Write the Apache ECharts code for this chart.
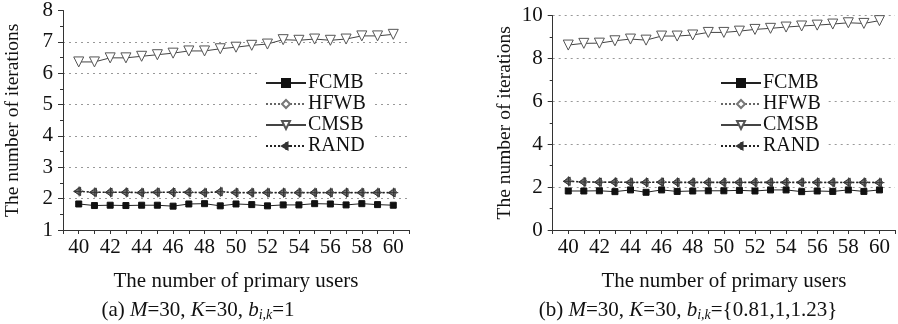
<!DOCTYPE html>
<html>
<head>
<meta charset="utf-8">
<script src="https://cdn.jsdelivr.net/npm/echarts@6/dist/echarts.min.js"></script>
<style>
  html, body { margin: 0; padding: 0; background: #fff; }
  #chart { width: 898px; height: 324px; }
</style>
</head>
<body>
<div id="chart"></div>
<script>
// Number of primary users (x values shared by both panels)
const primaryUsers = [40, 41, 42, 43, 44, 45, 46, 47, 48, 49, 50, 51, 52, 53, 54, 55, 56, 57, 58, 59, 60];

// Panel (a): M=30, K=30, b_{i,k}=1
const fcmbA = [1.83, 1.78, 1.79, 1.78, 1.79, 1.79, 1.76, 1.83, 1.84, 1.77, 1.83, 1.81, 1.77, 1.80, 1.80, 1.84, 1.83, 1.80, 1.84, 1.81, 1.79];
const hfwbA = [2.24, 2.21, 2.21, 2.21, 2.20, 2.21, 2.21, 2.21, 2.19, 2.21, 2.20, 2.20, 2.20, 2.20, 2.20, 2.20, 2.20, 2.20, 2.20, 2.20, 2.20];
const cmsbA = [6.36, 6.36, 6.49, 6.49, 6.54, 6.59, 6.64, 6.71, 6.71, 6.78, 6.83, 6.89, 6.93, 7.07, 7.05, 7.09, 7.05, 7.09, 7.19, 7.19, 7.24];
const randA = [2.23, 2.20, 2.20, 2.20, 2.19, 2.20, 2.20, 2.20, 2.19, 2.22, 2.19, 2.19, 2.19, 2.19, 2.19, 2.19, 2.19, 2.19, 2.19, 2.19, 2.19];

// Panel (b): M=30, K=30, b_{i,k}={0.81,1,1.23}
const fcmbB = [1.82, 1.82, 1.83, 1.79, 1.87, 1.76, 1.87, 1.80, 1.82, 1.83, 1.83, 1.85, 1.82, 1.87, 1.87, 1.79, 1.82, 1.80, 1.87, 1.80, 1.87];
const hfwbB = [2.29, 2.25, 2.24, 2.24, 2.23, 2.23, 2.24, 2.24, 2.23, 2.23, 2.23, 2.23, 2.23, 2.23, 2.23, 2.23, 2.23, 2.22, 2.22, 2.23, 2.22];
const cmsbB = [8.63, 8.71, 8.72, 8.83, 8.91, 8.86, 9.05, 9.05, 9.10, 9.22, 9.22, 9.28, 9.36, 9.41, 9.47, 9.52, 9.56, 9.61, 9.67, 9.64, 9.77];
const randB = [2.27, 2.24, 2.23, 2.23, 2.22, 2.22, 2.23, 2.22, 2.22, 2.22, 2.22, 2.22, 2.22, 2.22, 2.22, 2.22, 2.22, 2.22, 2.22, 2.22, 2.21];

const seriesNames = ['FCMB', 'HFWB', 'CMSB', 'RAND'];
const xTitle = 'The number of primary users';
const yTitle = 'The number of iterations';
const captionA = '(a) {i|M}=30, {i|K}=30, {i|b}{s|i,k}=1';
const captionB = '(b) {i|M}=30, {i|K}=30, {i|b}{s|i,k}={0.81,1,1.23}';

const FONT = '"Liberation Serif", "DejaVu Serif", serif';
const AXIS_COLOR = '#333';

const pair = (vals) => primaryUsers.map((x, i) => [x, vals[i]]);

// Left-pointing triangle crossed by a plus sign
const RAND_SYMBOL = 'path://M0,6 L9,1 L9,11 Z M0,6 L13,6 M7,0 L7,12';

// Visual style per algorithm
const styles = {
  FCMB: { symbol: 'rect', symbolSize: 6, symbolRotate: 0,
          itemStyle: { color: '#111', borderColor: '#111', borderWidth: 1 },
          lineStyle: { color: '#222', width: 1, type: 'solid' } },
  HFWB: { symbol: 'diamond', symbolSize: 8, symbolRotate: 0,
          itemStyle: { color: '#fff', borderColor: '#777', borderWidth: 1 },
          lineStyle: { color: '#666', width: 1.2, type: [2, 2] } },
  CMSB: { symbol: 'triangle', symbolSize: 10, symbolRotate: 180,
          itemStyle: { color: '#fff', borderColor: '#555', borderWidth: 1 },
          lineStyle: { color: '#444', width: 1, type: 'solid' } },
  RAND: { symbol: RAND_SYMBOL, symbolSize: [10, 10], symbolRotate: 0,
          itemStyle: { color: '#777', borderColor: '#333', borderWidth: 1 },
          lineStyle: { color: '#222', width: 1.4, type: [2, 2] } }
};

function makeSeries(name, vals, idx) {
  const s = styles[name];
  return {
    name: name,
    type: 'line',
    xAxisIndex: idx,
    yAxisIndex: idx,
    data: pair(vals),
    symbol: s.symbol,
    symbolSize: s.symbolSize,
    symbolRotate: s.symbolRotate,
    showAllSymbol: true,
    itemStyle: s.itemStyle,
    lineStyle: s.lineStyle,
    animation: false,
    z: name === 'CMSB' ? 3 : 2
  };
}

function xAxisCfg(idx) {
  return {
    type: 'value', gridIndex: idx, min: 39, max: 61, interval: 1,
    axisLine: { lineStyle: { color: AXIS_COLOR, width: 1 } },
    axisTick: { show: true, inside: false, length: 4, lineStyle: { color: AXIS_COLOR } },
    axisLabel: {
      color: '#111', fontFamily: FONT, fontSize: 21, margin: 7,
      formatter: (v) => (v >= 40 && v <= 60 && v % 2 === 0) ? String(v) : ''
    },
    splitLine: { show: false },
    name: xTitle, nameLocation: 'middle', nameGap: 41,
    nameTextStyle: { color: '#111', fontFamily: FONT, fontSize: 21 }
  };
}

function yAxisCfg(idx, min, max, interval, showMax, gap) {
  return {
    type: 'value', gridIndex: idx, min: min, max: max, interval: interval,
    axisLine: { show: true, lineStyle: { color: AXIS_COLOR, width: 1 } },
    axisTick: { show: true, inside: false, length: 5, lineStyle: { color: AXIS_COLOR } },
    minorTick: { show: true, splitNumber: 2, length: 3, lineStyle: { color: AXIS_COLOR } },
    axisLabel: { color: '#111', fontFamily: FONT, fontSize: 21, margin: 10 },
    splitLine: { show: true, showMinLine: false, showMaxLine: showMax,
                 lineStyle: { color: '#999', width: 1, type: [2, 4] } },
    name: yTitle, nameLocation: 'middle', nameRotate: 90, nameGap: gap,
    nameTextStyle: { color: '#111', fontFamily: FONT, fontSize: 19.5 }
  };
}

function legendCfg(left, top) {
  return {
    data: seriesNames,
    orient: 'vertical',
    left: left, top: top,
    itemWidth: 40, itemHeight: 10, itemGap: 1,
    padding: [2, 6, 2, 4],
    backgroundColor: '#fff',
    selectedMode: false,
    textStyle: { color: '#111', fontFamily: FONT, fontSize: 20, padding: [0, 0, 0, -3] }
  };
}

const captionRich = {
  i: { fontStyle: 'italic', fontFamily: FONT, fontSize: 21 },
  s: { fontStyle: 'italic', fontFamily: FONT, fontSize: 14, verticalAlign: 'bottom', padding: [10, 0, 0, 0] }
};

function caption(text, cx, cy) {
  return {
    type: 'text', x: cx, y: cy, z: 10,
    style: {
      text: text, align: 'center', verticalAlign: 'middle',
      font: '21px ' + FONT, fill: '#111', rich: captionRich
    }
  };
}

const chart = echarts.init(document.getElementById('chart'), null, { renderer: 'canvas' });

chart.setOption({
  backgroundColor: '#fff',
  animation: false,
  grid: [
    { left: 63, top: 10, width: 346, height: 220 },
    { left: 552.7, top: 15.7, width: 346.5, height: 214.3 }
  ],
  xAxis: [xAxisCfg(0), xAxisCfg(1)],
  yAxis: [yAxisCfg(0, 1, 8, 1, false, 40), yAxisCfg(1, 0, 10, 2, true, 38)],
  legend: [legendCfg(261, 71), legendCfg(716, 71)],
  series: [
    makeSeries('FCMB', fcmbA, 0),
    makeSeries('HFWB', hfwbA, 0),
    makeSeries('RAND', randA, 0),
    makeSeries('CMSB', cmsbA, 0),
    makeSeries('FCMB', fcmbB, 1),
    makeSeries('HFWB', hfwbB, 1),
    makeSeries('RAND', randB, 1),
    makeSeries('CMSB', cmsbB, 1)
  ],
  graphic: [
    caption(captionA, 198, 310),
    caption(captionB, 688, 310)
  ]
});
</script>
</body>
</html>
